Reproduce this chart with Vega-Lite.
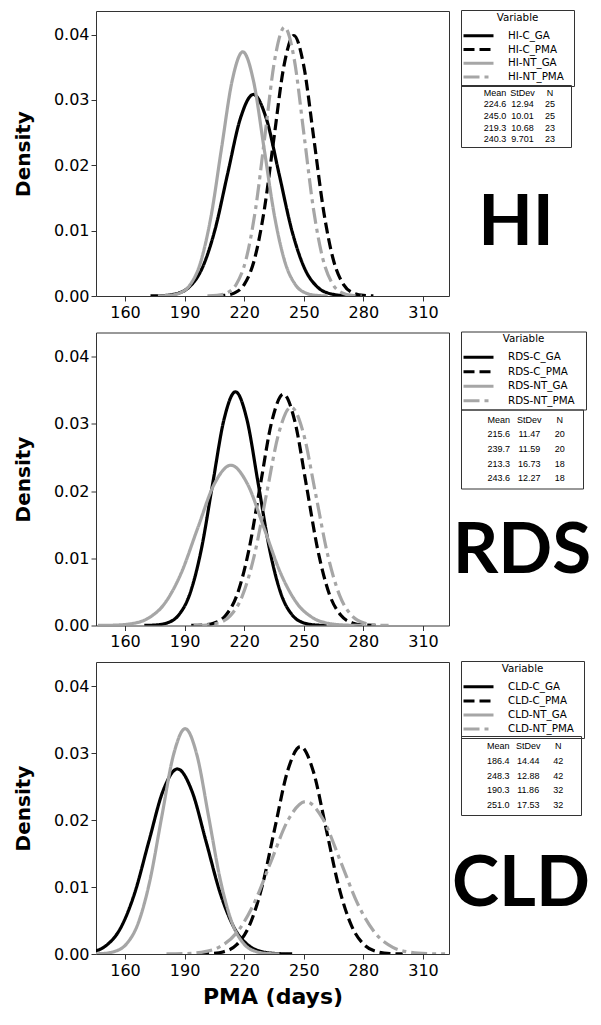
{
 "$schema": "https://vega.github.io/schema/vega-lite/v6.json",
 "padding": {"left": 12, "top": 9, "right": 5, "bottom": 5},
 "background": "white",
 "config": {
  "view": {"stroke": null},
  "font": "DejaVu Sans",
  "axis": {"labelFont": "DejaVu Sans", "labelFontSize": 16, "labelColor": "#000", "tickColor": "#333", "tickSize": 5, "domain": false, "grid": false, "titleFont": "DejaVu Sans", "titleFontSize": 20, "titleFontWeight": "bold", "titleColor": "#000"},
  "legend": {"titleFont": "DejaVu Sans", "labelFont": "DejaVu Sans", "titleFontSize": 10.3, "labelFontSize": 10.3, "titleFontWeight": "normal", "titleColor": "#000", "labelColor": "#000", "orient": "none", "legendX": 0, "legendY": -1, "titleAnchor": "middle", "symbolSize": 100, "symbolStrokeWidth": 3, "symbolOffset": 8.5, "labelOffset": 23, "padding": 2.5, "strokeColor": "#333", "titlePadding": 6.5}
 },
 "datasets": {
  "hi": [
   {"s":"HI-C_GA","x":172.84,"d":0.0000104},{"s":"HI-C_GA","x":179.31,"d":0.0000675},{"s":"HI-C_GA","x":185.78,"d":0.000343},{"s":"HI-C_GA","x":192.25,"d":0.001355},{"s":"HI-C_GA","x":198.72,"d":0.004172},{"s":"HI-C_GA","x":205.19,"d":0.010009},{"s":"HI-C_GA","x":211.66,"d":0.0187},{"s":"HI-C_GA","x":218.13,"d":0.027208},{"s":"HI-C_GA","x":224.6,"d":0.03083},{"s":"HI-C_GA","x":231.07,"d":0.027208},{"s":"HI-C_GA","x":237.54,"d":0.0187},{"s":"HI-C_GA","x":244.01,"d":0.010009},{"s":"HI-C_GA","x":250.48,"d":0.004172},{"s":"HI-C_GA","x":256.95,"d":0.001355},{"s":"HI-C_GA","x":263.42,"d":0.000343},{"s":"HI-C_GA","x":269.89,"d":0.0000675},{"s":"HI-C_GA","x":276.36,"d":0.0000104},
   {"s":"HI-C_PMA","x":204.96,"d":0.0000134},{"s":"HI-C_PMA","x":209.97,"d":0.0000872},{"s":"HI-C_PMA","x":214.97,"d":0.000443},{"s":"HI-C_PMA","x":219.98,"d":0.001751},{"s":"HI-C_PMA","x":224.98,"d":0.005394},{"s":"HI-C_PMA","x":229.99,"d":0.012939},{"s":"HI-C_PMA","x":234.99,"d":0.024173},{"s":"HI-C_PMA","x":239.99,"d":0.035171},{"s":"HI-C_PMA","x":245.0,"d":0.039854},{"s":"HI-C_PMA","x":250.01,"d":0.035171},{"s":"HI-C_PMA","x":255.01,"d":0.024173},{"s":"HI-C_PMA","x":260.02,"d":0.012939},{"s":"HI-C_PMA","x":265.02,"d":0.005394},{"s":"HI-C_PMA","x":270.03,"d":0.001751},{"s":"HI-C_PMA","x":275.03,"d":0.000443},{"s":"HI-C_PMA","x":280.04,"d":0.0000872},{"s":"HI-C_PMA","x":285.04,"d":0.0000134},
   {"s":"HI-NT_GA","x":176.58,"d":0.0000125},{"s":"HI-NT_GA","x":181.92,"d":0.0000817},{"s":"HI-NT_GA","x":187.26,"d":0.000415},{"s":"HI-NT_GA","x":192.6,"d":0.001641},{"s":"HI-NT_GA","x":197.94,"d":0.005055},{"s":"HI-NT_GA","x":203.28,"d":0.012127},{"s":"HI-NT_GA","x":208.62,"d":0.022656},{"s":"HI-NT_GA","x":213.96,"d":0.032965},{"s":"HI-NT_GA","x":219.3,"d":0.037354},{"s":"HI-NT_GA","x":224.64,"d":0.032965},{"s":"HI-NT_GA","x":229.98,"d":0.022656},{"s":"HI-NT_GA","x":235.32,"d":0.012127},{"s":"HI-NT_GA","x":240.66,"d":0.005055},{"s":"HI-NT_GA","x":246.0,"d":0.001641},{"s":"HI-NT_GA","x":251.34,"d":0.000415},{"s":"HI-NT_GA","x":256.68,"d":0.0000817},{"s":"HI-NT_GA","x":262.02,"d":0.0000125},
   {"s":"HI-NT_PMA","x":201.5,"d":0.0000138},{"s":"HI-NT_PMA","x":206.35,"d":0.00009},{"s":"HI-NT_PMA","x":211.2,"d":0.000457},{"s":"HI-NT_PMA","x":216.05,"d":0.001807},{"s":"HI-NT_PMA","x":220.9,"d":0.005565},{"s":"HI-NT_PMA","x":225.75,"d":0.013351},{"s":"HI-NT_PMA","x":230.6,"d":0.024943},{"s":"HI-NT_PMA","x":235.45,"d":0.036292},{"s":"HI-NT_PMA","x":240.3,"d":0.041124},{"s":"HI-NT_PMA","x":245.15,"d":0.036292},{"s":"HI-NT_PMA","x":250.0,"d":0.024943},{"s":"HI-NT_PMA","x":254.85,"d":0.013351},{"s":"HI-NT_PMA","x":259.7,"d":0.005565},{"s":"HI-NT_PMA","x":264.55,"d":0.001807},{"s":"HI-NT_PMA","x":269.4,"d":0.000457},{"s":"HI-NT_PMA","x":274.25,"d":0.00009},{"s":"HI-NT_PMA","x":279.1,"d":0.0000138}
  ],
  "rds": [
   {"s":"RDS-C_GA","x":169.72,"d":0.0000117},{"s":"RDS-C_GA","x":175.46,"d":0.0000761},{"s":"RDS-C_GA","x":181.19,"d":0.000386},{"s":"RDS-C_GA","x":186.93,"d":0.001528},{"s":"RDS-C_GA","x":192.66,"d":0.004707},{"s":"RDS-C_GA","x":198.4,"d":0.011292},{"s":"RDS-C_GA","x":204.13,"d":0.021096},{"s":"RDS-C_GA","x":209.87,"d":0.030694},{"s":"RDS-C_GA","x":215.6,"d":0.034781},{"s":"RDS-C_GA","x":221.34,"d":0.030694},{"s":"RDS-C_GA","x":227.07,"d":0.021096},{"s":"RDS-C_GA","x":232.81,"d":0.011292},{"s":"RDS-C_GA","x":238.54,"d":0.004707},{"s":"RDS-C_GA","x":244.28,"d":0.001528},{"s":"RDS-C_GA","x":250.01,"d":0.000386},{"s":"RDS-C_GA","x":255.75,"d":0.0000761},{"s":"RDS-C_GA","x":261.48,"d":0.0000117},
   {"s":"RDS-C_PMA","x":193.34,"d":0.0000116},{"s":"RDS-C_PMA","x":199.14,"d":0.0000753},{"s":"RDS-C_PMA","x":204.93,"d":0.000382},{"s":"RDS-C_PMA","x":210.73,"d":0.001512},{"s":"RDS-C_PMA","x":216.52,"d":0.004658},{"s":"RDS-C_PMA","x":222.32,"d":0.011175},{"s":"RDS-C_PMA","x":228.11,"d":0.020877},{"s":"RDS-C_PMA","x":233.91,"d":0.030376},{"s":"RDS-C_PMA","x":239.7,"d":0.034421},{"s":"RDS-C_PMA","x":245.5,"d":0.030376},{"s":"RDS-C_PMA","x":251.29,"d":0.020877},{"s":"RDS-C_PMA","x":257.09,"d":0.011175},{"s":"RDS-C_PMA","x":262.88,"d":0.004658},{"s":"RDS-C_PMA","x":268.68,"d":0.001512},{"s":"RDS-C_PMA","x":274.47,"d":0.000382},{"s":"RDS-C_PMA","x":280.27,"d":0.0000753},{"s":"RDS-C_PMA","x":286.06,"d":0.0000116},
   {"s":"RDS-NT_GA","x":146.38,"d":0.000008},{"s":"RDS-NT_GA","x":154.75,"d":0.0000522},{"s":"RDS-NT_GA","x":163.11,"d":0.000265},{"s":"RDS-NT_GA","x":171.48,"d":0.001048},{"s":"RDS-NT_GA","x":179.84,"d":0.003227},{"s":"RDS-NT_GA","x":188.21,"d":0.007742},{"s":"RDS-NT_GA","x":196.57,"d":0.014463},{"s":"RDS-NT_GA","x":204.94,"d":0.021044},{"s":"RDS-NT_GA","x":213.3,"d":0.023846},{"s":"RDS-NT_GA","x":221.67,"d":0.021044},{"s":"RDS-NT_GA","x":230.03,"d":0.014463},{"s":"RDS-NT_GA","x":238.4,"d":0.007742},{"s":"RDS-NT_GA","x":246.76,"d":0.003227},{"s":"RDS-NT_GA","x":255.13,"d":0.001048},{"s":"RDS-NT_GA","x":263.49,"d":0.000265},{"s":"RDS-NT_GA","x":271.86,"d":0.0000522},{"s":"RDS-NT_GA","x":280.22,"d":0.000008},
   {"s":"RDS-NT_PMA","x":194.52,"d":0.0000109},{"s":"RDS-NT_PMA","x":200.66,"d":0.0000711},{"s":"RDS-NT_PMA","x":206.79,"d":0.000361},{"s":"RDS-NT_PMA","x":212.93,"d":0.001429},{"s":"RDS-NT_PMA","x":219.06,"d":0.0044},{"s":"RDS-NT_PMA","x":225.2,"d":0.010556},{"s":"RDS-NT_PMA","x":231.33,"d":0.019721},{"s":"RDS-NT_PMA","x":237.47,"d":0.028693},{"s":"RDS-NT_PMA","x":243.6,"d":0.032514},{"s":"RDS-NT_PMA","x":249.74,"d":0.028693},{"s":"RDS-NT_PMA","x":255.87,"d":0.019721},{"s":"RDS-NT_PMA","x":262.01,"d":0.010556},{"s":"RDS-NT_PMA","x":268.14,"d":0.0044},{"s":"RDS-NT_PMA","x":274.28,"d":0.001429},{"s":"RDS-NT_PMA","x":280.41,"d":0.000361},{"s":"RDS-NT_PMA","x":286.55,"d":0.0000711},{"s":"RDS-NT_PMA","x":292.68,"d":0.0000109}
  ],
  "cld": [
   {"s":"CLD-C_GA","x":128.64,"d":0.0000093},{"s":"CLD-C_GA","x":135.86,"d":0.0000605},{"s":"CLD-C_GA","x":143.08,"d":0.000307},{"s":"CLD-C_GA","x":150.3,"d":0.001214},{"s":"CLD-C_GA","x":157.52,"d":0.003739},{"s":"CLD-C_GA","x":164.74,"d":0.008969},{"s":"CLD-C_GA","x":171.96,"d":0.016757},{"s":"CLD-C_GA","x":179.18,"d":0.024381},{"s":"CLD-C_GA","x":186.4,"d":0.027628},{"s":"CLD-C_GA","x":193.62,"d":0.024381},{"s":"CLD-C_GA","x":200.84,"d":0.016757},{"s":"CLD-C_GA","x":208.06,"d":0.008969},{"s":"CLD-C_GA","x":215.28,"d":0.003739},{"s":"CLD-C_GA","x":222.5,"d":0.001214},{"s":"CLD-C_GA","x":229.72,"d":0.000307},{"s":"CLD-C_GA","x":236.94,"d":0.0000605},{"s":"CLD-C_GA","x":244.16,"d":0.0000093},
   {"s":"CLD-C_PMA","x":196.78,"d":0.0000104},{"s":"CLD-C_PMA","x":203.22,"d":0.0000678},{"s":"CLD-C_PMA","x":209.66,"d":0.000344},{"s":"CLD-C_PMA","x":216.1,"d":0.001361},{"s":"CLD-C_PMA","x":222.54,"d":0.004192},{"s":"CLD-C_PMA","x":228.98,"d":0.010056},{"s":"CLD-C_PMA","x":235.42,"d":0.018787},{"s":"CLD-C_PMA","x":241.86,"d":0.027334},{"s":"CLD-C_PMA","x":248.3,"d":0.030974},{"s":"CLD-C_PMA","x":254.74,"d":0.027334},{"s":"CLD-C_PMA","x":261.18,"d":0.018787},{"s":"CLD-C_PMA","x":267.62,"d":0.010056},{"s":"CLD-C_PMA","x":274.06,"d":0.004192},{"s":"CLD-C_PMA","x":280.5,"d":0.001361},{"s":"CLD-C_PMA","x":286.94,"d":0.000344},{"s":"CLD-C_PMA","x":293.38,"d":0.0000678},{"s":"CLD-C_PMA","x":299.82,"d":0.0000104},
   {"s":"CLD-NT_GA","x":142.86,"d":0.0000113},{"s":"CLD-NT_GA","x":148.79,"d":0.0000736},{"s":"CLD-NT_GA","x":154.72,"d":0.000374},{"s":"CLD-NT_GA","x":160.65,"d":0.001478},{"s":"CLD-NT_GA","x":166.58,"d":0.004552},{"s":"CLD-NT_GA","x":172.51,"d":0.010921},{"s":"CLD-NT_GA","x":178.44,"d":0.020402},{"s":"CLD-NT_GA","x":184.37,"d":0.029685},{"s":"CLD-NT_GA","x":190.3,"d":0.033638},{"s":"CLD-NT_GA","x":196.23,"d":0.029685},{"s":"CLD-NT_GA","x":202.16,"d":0.020402},{"s":"CLD-NT_GA","x":208.09,"d":0.010921},{"s":"CLD-NT_GA","x":214.02,"d":0.004552},{"s":"CLD-NT_GA","x":219.95,"d":0.001478},{"s":"CLD-NT_GA","x":225.88,"d":0.000374},{"s":"CLD-NT_GA","x":231.81,"d":0.0000736},{"s":"CLD-NT_GA","x":237.74,"d":0.0000113},
   {"s":"CLD-NT_PMA","x":180.88,"d":0.0000076},{"s":"CLD-NT_PMA","x":189.65,"d":0.0000498},{"s":"CLD-NT_PMA","x":198.41,"d":0.000253},{"s":"CLD-NT_PMA","x":207.18,"d":0.001},{"s":"CLD-NT_PMA","x":215.94,"d":0.00308},{"s":"CLD-NT_PMA","x":224.71,"d":0.007388},{"s":"CLD-NT_PMA","x":233.47,"d":0.013803},{"s":"CLD-NT_PMA","x":242.24,"d":0.020084},{"s":"CLD-NT_PMA","x":251.0,"d":0.022758},{"s":"CLD-NT_PMA","x":259.77,"d":0.020084},{"s":"CLD-NT_PMA","x":268.53,"d":0.013803},{"s":"CLD-NT_PMA","x":277.3,"d":0.007388},{"s":"CLD-NT_PMA","x":286.06,"d":0.00308},{"s":"CLD-NT_PMA","x":294.83,"d":0.001},{"s":"CLD-NT_PMA","x":303.59,"d":0.000253},{"s":"CLD-NT_PMA","x":312.36,"d":0.0000498},{"s":"CLD-NT_PMA","x":321.12,"d":0.0000076}
  ],
  "hi_t": [
   {"r":"hdr","c":"Mean","v":"Mean"},{"r":"hdr","c":"StDev","v":"StDev"},{"r":"hdr","c":"N","v":"N"},
   {"r":"HI-C_GA","c":"Mean","v":"224.6"},{"r":"HI-C_GA","c":"StDev","v":"12.94"},{"r":"HI-C_GA","c":"N","v":"25"},
   {"r":"HI-C_PMA","c":"Mean","v":"245.0"},{"r":"HI-C_PMA","c":"StDev","v":"10.01"},{"r":"HI-C_PMA","c":"N","v":"25"},
   {"r":"HI-NT_GA","c":"Mean","v":"219.3"},{"r":"HI-NT_GA","c":"StDev","v":"10.68"},{"r":"HI-NT_GA","c":"N","v":"23"},
   {"r":"HI-NT_PMA","c":"Mean","v":"240.3"},{"r":"HI-NT_PMA","c":"StDev","v":"9.701"},{"r":"HI-NT_PMA","c":"N","v":"23"}
  ],
  "rds_t": [
   {"r":"hdr","c":"Mean","v":"Mean"},{"r":"hdr","c":"StDev","v":"StDev"},{"r":"hdr","c":"N","v":"N"},
   {"r":"RDS-C_GA","c":"Mean","v":"215.6"},{"r":"RDS-C_GA","c":"StDev","v":"11.47"},{"r":"RDS-C_GA","c":"N","v":"20"},
   {"r":"RDS-C_PMA","c":"Mean","v":"239.7"},{"r":"RDS-C_PMA","c":"StDev","v":"11.59"},{"r":"RDS-C_PMA","c":"N","v":"20"},
   {"r":"RDS-NT_GA","c":"Mean","v":"213.3"},{"r":"RDS-NT_GA","c":"StDev","v":"16.73"},{"r":"RDS-NT_GA","c":"N","v":"18"},
   {"r":"RDS-NT_PMA","c":"Mean","v":"243.6"},{"r":"RDS-NT_PMA","c":"StDev","v":"12.27"},{"r":"RDS-NT_PMA","c":"N","v":"18"}
  ],
  "cld_t": [
   {"r":"hdr","c":"Mean","v":"Mean"},{"r":"hdr","c":"StDev","v":"StDev"},{"r":"hdr","c":"N","v":"N"},
   {"r":"CLD-C_GA","c":"Mean","v":"186.4"},{"r":"CLD-C_GA","c":"StDev","v":"14.44"},{"r":"CLD-C_GA","c":"N","v":"42"},
   {"r":"CLD-C_PMA","c":"Mean","v":"248.3"},{"r":"CLD-C_PMA","c":"StDev","v":"12.88"},{"r":"CLD-C_PMA","c":"N","v":"42"},
   {"r":"CLD-NT_GA","c":"Mean","v":"190.3"},{"r":"CLD-NT_GA","c":"StDev","v":"11.86"},{"r":"CLD-NT_GA","c":"N","v":"32"},
   {"r":"CLD-NT_PMA","c":"Mean","v":"251.0"},{"r":"CLD-NT_PMA","c":"StDev","v":"17.53"},{"r":"CLD-NT_PMA","c":"N","v":"32"}
  ]
 },
 "spacing": 9.5,
 "bounds": "full",
 "resolve": {"scale": {"color": "independent", "strokeDash": "independent"}},
 "vconcat": [
  {
   "spacing": 12, "bounds": "flush",
   "resolve": {"scale": {"color": "independent", "strokeDash": "independent"}},
   "hconcat": [
    {
     "width": 353, "height": 285,
     "view": {"stroke": "#333"},
     "data": {"name": "hi"},
     "mark": {"type": "line", "interpolate": "monotone", "strokeWidth": 3.2, "clip": true},
     "encoding": {
      "x": {"field": "x", "type": "quantitative", "scale": {"domain": [145.4, 323.1], "nice": false, "zero": false}, "axis": {"values": [160,190,220,250,280,310], "title": null, "labelPadding": 3}},
      "y": {"field": "d", "type": "quantitative", "scale": {"domain": [0, 0.0436], "nice": false}, "axis": {"values": [0,0.01,0.02,0.03,0.04], "format": ".2f", "title": "Density", "titlePadding": 20, "labelPadding": 2}},
      "color": {"field": "s", "type": "nominal", "scale": {"domain": ["HI-C_GA","HI-C_PMA","HI-NT_GA","HI-NT_PMA"], "range": ["#000000","#000000","#a6a6a6","#a6a6a6"]}, "legend": null},
      "strokeDash": {"field": "s", "type": "nominal", "scale": {"domain": ["HI-C_GA","HI-C_PMA","HI-NT_GA","HI-NT_PMA"], "range": [[1,0],[11,5],[1,0],[16,5,4,5]]}, "legend": null}
     }
    },
    {
     "spacing": 4, "bounds": "flush",
     "vconcat": [
      {
       "width": 110, "height": 70,
       "data": {"name": "hi"},
       "mark": {"type": "rule", "strokeWidth": 3},
       "encoding": {
        "color": {"field": "s", "type": "nominal", "scale": {"domain": ["HI-C_GA","HI-C_PMA","HI-NT_GA","HI-NT_PMA"], "range": ["#000000","#000000","#a6a6a6","#a6a6a6"]}, "legend": {"title": "Variable", "symbolType": "M-3,0H3M17.4,0", "symbolSize": 100, "rowPadding": 0.7}},
        "strokeDash": {"field": "s", "type": "nominal", "scale": {"domain": ["HI-C_GA","HI-C_PMA","HI-NT_GA","HI-NT_PMA"], "range": [[1,0],[11,5],[1,0],[16,5,4,5]]}, "legend": {"title": "Variable", "symbolType": "M-3,0H3M17.4,0", "symbolSize": 100, "rowPadding": 0.7}}
       }
      },
      {
       "width": 110, "height": 62,
       "view": {"stroke": "#333"},
       "data": {"name": "hi_t"},
       "title": {"text": "HI", "orient": "bottom", "anchor": "middle", "offset": 98, "baseline": "alphabetic", "font": "Lato", "fontWeight": "bold", "fontSize": 71, "color": "#000"},
       "mark": {"type": "text", "font": "Liberation Sans", "fontSize": 9, "color": "#000"},
       "encoding": {
        "x": {"field": "c", "type": "nominal", "scale": {"type": "point", "domain": ["Mean","StDev","N"], "padding": 1.1, "align": 0.62}, "axis": null},
        "y": {"field": "r", "type": "nominal", "scale": {"type": "point", "domain": ["hdr","HI-C_GA","HI-C_PMA","HI-NT_GA","HI-NT_PMA"], "padding": 0.68}, "axis": null},
        "text": {"field": "v"}
       }
      }
     ]
    }
   ]
  },
  {
   "spacing": 12, "bounds": "flush",
   "resolve": {"scale": {"color": "independent", "strokeDash": "independent"}},
   "hconcat": [
    {
     "width": 353, "height": 293,
     "view": {"stroke": "#333"},
     "data": {"name": "rds"},
     "mark": {"type": "line", "interpolate": "monotone", "strokeWidth": 3.2, "clip": true},
     "encoding": {
      "x": {"field": "x", "type": "quantitative", "scale": {"domain": [145.4, 323.1], "nice": false, "zero": false}, "axis": {"values": [160,190,220,250,280,310], "title": null, "labelPadding": 3}},
      "y": {"field": "d", "type": "quantitative", "scale": {"domain": [0, 0.0436], "nice": false}, "axis": {"values": [0,0.01,0.02,0.03,0.04], "format": ".2f", "title": "Density", "titlePadding": 20, "labelPadding": 2}},
      "color": {"field": "s", "type": "nominal", "scale": {"domain": ["RDS-C_GA","RDS-C_PMA","RDS-NT_GA","RDS-NT_PMA"], "range": ["#000000","#000000","#a6a6a6","#a6a6a6"]}, "legend": null},
      "strokeDash": {"field": "s", "type": "nominal", "scale": {"domain": ["RDS-C_GA","RDS-C_PMA","RDS-NT_GA","RDS-NT_PMA"], "range": [[1,0],[11,5],[1,0],[16,5,4,5]]}, "legend": null}
     }
    },
    {
     "spacing": 4, "bounds": "flush",
     "vconcat": [
      {
       "width": 122, "height": 73,
       "data": {"name": "rds"},
       "mark": {"type": "rule", "strokeWidth": 3},
       "encoding": {
        "color": {"field": "s", "type": "nominal", "scale": {"domain": ["RDS-C_GA","RDS-C_PMA","RDS-NT_GA","RDS-NT_PMA"], "range": ["#000000","#000000","#a6a6a6","#a6a6a6"]}, "legend": {"title": "Variable", "symbolType": "M-3,0H3M19.8,0", "symbolSize": 100, "rowPadding": 1.5}},
        "strokeDash": {"field": "s", "type": "nominal", "scale": {"domain": ["RDS-C_GA","RDS-C_PMA","RDS-NT_GA","RDS-NT_PMA"], "range": [[1,0],[11,5],[1,0],[16,5,4,5]]}, "legend": {"title": "Variable", "symbolType": "M-3,0H3M19.8,0", "symbolSize": 100, "rowPadding": 1.5}}
       }
      },
      {
       "width": 122, "height": 79,
       "view": {"stroke": "#333"},
       "data": {"name": "rds_t"},
       "title": {"text": "RDS", "orient": "bottom", "anchor": "middle", "offset": 84.5, "baseline": "alphabetic", "font": "Lato", "fontWeight": "bold", "fontSize": 71, "color": "#000"},
       "mark": {"type": "text", "font": "Liberation Sans", "fontSize": 9, "color": "#000"},
       "encoding": {
        "x": {"field": "c", "type": "nominal", "scale": {"type": "point", "domain": ["Mean","StDev","N"], "padding": 1.1, "align": 0.62}, "axis": null},
        "y": {"field": "r", "type": "nominal", "scale": {"type": "point", "domain": ["hdr","RDS-C_GA","RDS-C_PMA","RDS-NT_GA","RDS-NT_PMA"], "padding": 0.68}, "axis": null},
        "text": {"field": "v"}
       }
      }
     ]
    }
   ]
  },
  {
   "spacing": 12, "bounds": "flush",
   "resolve": {"scale": {"color": "independent", "strokeDash": "independent"}},
   "hconcat": [
    {
     "width": 353, "height": 292,
     "view": {"stroke": "#333"},
     "data": {"name": "cld"},
     "mark": {"type": "line", "interpolate": "monotone", "strokeWidth": 3.2, "clip": true},
     "encoding": {
      "x": {"field": "x", "type": "quantitative", "scale": {"domain": [145.4, 323.1], "nice": false, "zero": false}, "axis": {"values": [160,190,220,250,280,310], "title": "PMA (days)", "titleFontSize": 22, "titlePadding": 8, "labelPadding": 3}},
      "y": {"field": "d", "type": "quantitative", "scale": {"domain": [0, 0.0436], "nice": false}, "axis": {"values": [0,0.01,0.02,0.03,0.04], "format": ".2f", "title": "Density", "titlePadding": 20, "labelPadding": 2}},
      "color": {"field": "s", "type": "nominal", "scale": {"domain": ["CLD-C_GA","CLD-C_PMA","CLD-NT_GA","CLD-NT_PMA"], "range": ["#000000","#000000","#a6a6a6","#a6a6a6"]}, "legend": null},
      "strokeDash": {"field": "s", "type": "nominal", "scale": {"domain": ["CLD-C_GA","CLD-C_PMA","CLD-NT_GA","CLD-NT_PMA"], "range": [[1,0],[11,5],[1,0],[16,5,4,5]]}, "legend": null}
     }
    },
    {
     "spacing": 4, "bounds": "flush",
     "vconcat": [
      {
       "width": 120, "height": 70,
       "data": {"name": "cld"},
       "mark": {"type": "rule", "strokeWidth": 3},
       "encoding": {
        "color": {"field": "s", "type": "nominal", "scale": {"domain": ["CLD-C_GA","CLD-C_PMA","CLD-NT_GA","CLD-NT_PMA"], "range": ["#000000","#000000","#a6a6a6","#a6a6a6"]}, "legend": {"title": "Variable", "symbolType": "M-3,0H3M19.4,0", "symbolSize": 100, "rowPadding": 1.1}},
        "strokeDash": {"field": "s", "type": "nominal", "scale": {"domain": ["CLD-C_GA","CLD-C_PMA","CLD-NT_GA","CLD-NT_PMA"], "range": [[1,0],[11,5],[1,0],[16,5,4,5]]}, "legend": {"title": "Variable", "symbolType": "M-3,0H3M19.4,0", "symbolSize": 100, "rowPadding": 1.1}}
       }
      },
      {
       "width": 120, "height": 79,
       "view": {"stroke": "#333"},
       "data": {"name": "cld_t"},
       "title": {"text": "CLD", "orient": "bottom", "anchor": "middle", "offset": 91, "baseline": "alphabetic", "font": "Lato", "fontWeight": "bold", "fontSize": 71, "color": "#000"},
       "mark": {"type": "text", "font": "Liberation Sans", "fontSize": 9, "color": "#000"},
       "encoding": {
        "x": {"field": "c", "type": "nominal", "scale": {"type": "point", "domain": ["Mean","StDev","N"], "padding": 1.1, "align": 0.62}, "axis": null},
        "y": {"field": "r", "type": "nominal", "scale": {"type": "point", "domain": ["hdr","CLD-C_GA","CLD-C_PMA","CLD-NT_GA","CLD-NT_PMA"], "padding": 0.68}, "axis": null},
        "text": {"field": "v"}
       }
      }
     ]
    }
   ]
  }
 ]
}
